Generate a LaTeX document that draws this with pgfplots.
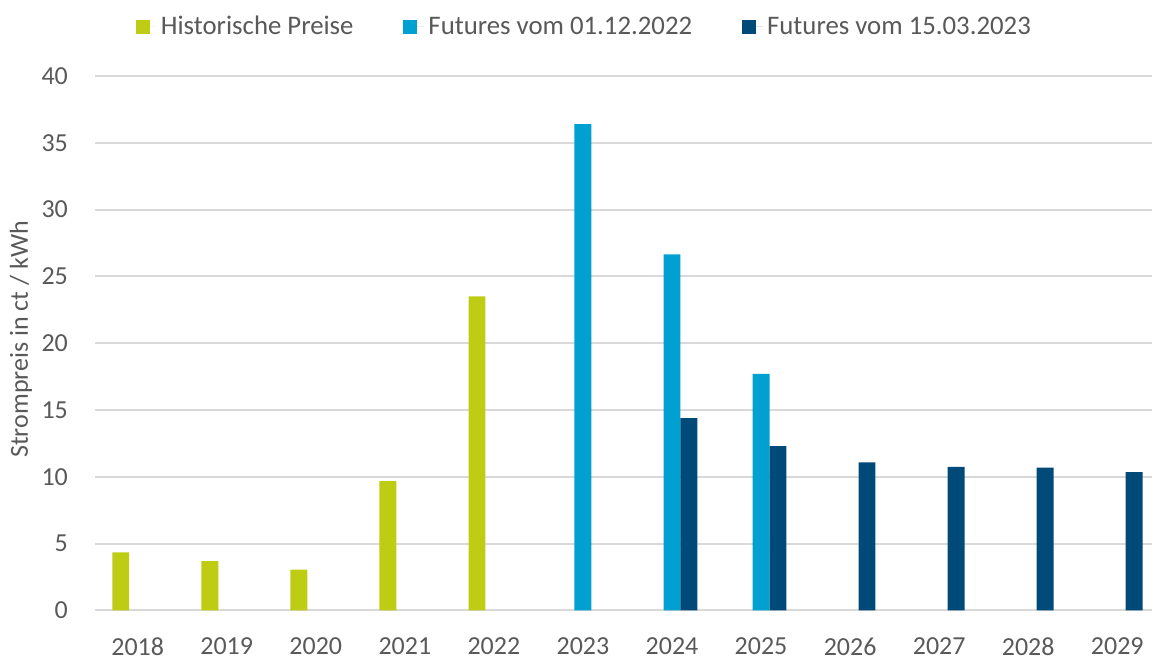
\documentclass[border=0pt]{standalone}
\usepackage{pgfplots}
\pgfplotsset{compat=1.18}
\usepackage{fontspec}
\setmainfont{Carlito}

\definecolor{histgreen}{RGB}{190,205,20}
\definecolor{futlight}{RGB}{0,160,208}
\definecolor{futdark}{RGB}{0,74,122}
\definecolor{txtgray}{RGB}{89,89,89}
\definecolor{gridgray}{RGB}{217,217,217}

\begin{document}
\begin{tikzpicture}
\begin{axis}[
  scale only axis,
  width=529pt, height=267.5pt,
  ymin=0, ymax=40,
  ytick={0,5,...,40},
  xmin=-0.48, xmax=11.39,
  xtick={0,...,11},
  xticklabels={2018,2019,2020,2021,2022,2023,2024,2025,2026,2027,2028,2029},
  axis line style={draw=none},
  major tick length=0pt,
  ymajorgrids,
  grid style={draw=gridgray, line width=1pt},
  /pgf/number format/assume math mode=true,
  ticklabel style={font=\fontsize{13}{15}\selectfont, text=txtgray},
  yticklabel style={xshift=-10pt},
  xticklabel style={yshift=-10pt},
  ylabel={Strompreis in ct / kWh},
  ylabel style={at={(axis description cs:-0.070,0.507)}, anchor=center,
    font=\fontsize{13}{15}\selectfont, text=txtgray},
  ybar=0pt,
  bar width=0.19,
  legend style={at={(axis description cs:0.464,1)}, anchor=center, yshift=24.5pt,
    draw=none, font=\fontsize{13.4}{15}\selectfont, text=txtgray,
    legend columns=-1,
    /tikz/every even column/.append style={column sep=23pt}},
  legend image code/.code={\fill[#1] (0pt,-3.4pt) rectangle (6.8pt,3.4pt);
    \path (0pt,0pt) -- (10.5pt,0pt);},
]
\addplot[fill=histgreen, draw=none, bar shift=-0.19] coordinates {
  (0,4.35) (1,3.7) (2,3.05) (3,9.67) (4,23.5)
};
\addlegendentry{Historische Preise}
\addplot[fill=futlight, draw=none, bar shift=0] coordinates {
  (5,36.4) (6,26.65) (7,17.7)
};
\addlegendentry{Futures vom 01.12.2022}
\addplot[fill=futdark, draw=none, bar shift=0.19] coordinates {
  (6,14.4) (7,12.3) (8,11.08) (9,10.75) (10,10.68) (11,10.35)
};
\addlegendentry{Futures vom 15.03.2023}
\end{axis}
\path (-47.5pt,-23pt) rectangle (529pt,305.5pt);
\end{tikzpicture}
\end{document}
